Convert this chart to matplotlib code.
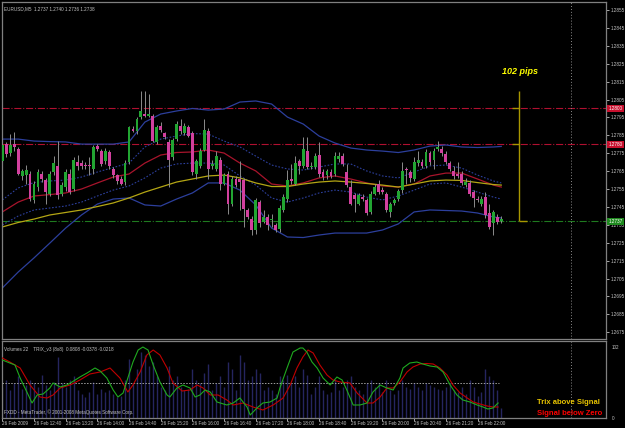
import matplotlib.pyplot as plt
import numpy as np

W, H = 625, 428

# ---- price data (EURUSD M5, 26 Feb 2009, bars from 12:00) ----
opens = [1.27709, 1.27802, 1.27752, 1.27802, 1.27774, 1.27622, 1.27626, 1.27635, 1.27487, 1.27561,
         1.27635, 1.27598, 1.27524, 1.27644, 1.27681, 1.27524, 1.27561, 1.27635, 1.27552, 1.27700,
         1.27694, 1.27685, 1.27685, 1.27663, 1.27792, 1.27761, 1.27704, 1.27755, 1.27663, 1.27626,
         1.27607, 1.27589, 1.27700, 1.27885, 1.27876, 1.27950, 1.27968, 1.27960, 1.27959, 1.27811,
         1.27904, 1.27861, 1.27811, 1.27728, 1.27829, 1.27904, 1.27861, 1.27894, 1.27861, 1.27635,
         1.27681, 1.27770, 1.27876, 1.27676, 1.27663, 1.27713, 1.27580, 1.27635, 1.27469, 1.27607,
         1.27607, 1.27598, 1.27432, 1.27385, 1.27321, 1.27478, 1.27367, 1.27395, 1.27375, 1.27348,
         1.27324, 1.27435, 1.27496, 1.27607, 1.27580, 1.27704, 1.27681, 1.27765, 1.27672, 1.27672,
         1.27742, 1.27644, 1.27626, 1.27644, 1.27635, 1.27719, 1.27737, 1.27644, 1.27561, 1.27515,
         1.27469, 1.27506, 1.27487, 1.27422, 1.27524, 1.27580, 1.27546, 1.27524, 1.27422, 1.27472,
         1.27496, 1.27543, 1.27663, 1.27644, 1.27607, 1.27694, 1.27700, 1.27681, 1.27752, 1.27713,
         1.27774, 1.27774, 1.27746, 1.27694, 1.27650, 1.27635, 1.27635, 1.27570, 1.27583, 1.27533,
         1.27496, 1.27469, 1.27506, 1.27417, 1.27358, 1.27395, 1.27370]
highs = [1.27830, 1.27810, 1.27857, 1.27870, 1.27785, 1.27660, 1.27682, 1.27650, 1.27595, 1.27660,
         1.27650, 1.27610, 1.27650, 1.27732, 1.27820, 1.27590, 1.27660, 1.27660, 1.27730, 1.27742,
         1.27710, 1.27700, 1.27728, 1.27795, 1.27802, 1.27775, 1.27780, 1.27770, 1.27675, 1.27635,
         1.27620, 1.27710, 1.27904, 1.27904, 1.27955, 1.28098, 1.28098, 1.28080, 1.27970, 1.27910,
         1.27925, 1.27870, 1.27830, 1.27835, 1.27931, 1.27941, 1.27920, 1.27910, 1.27875, 1.27720,
         1.27780, 1.27941, 1.27890, 1.27710, 1.27765, 1.27730, 1.27640, 1.27650, 1.27620, 1.27620,
         1.27709, 1.27610, 1.27445, 1.27400, 1.27500, 1.27490, 1.27432, 1.27410, 1.27413, 1.27360,
         1.27460, 1.27520, 1.27654, 1.27691, 1.27737, 1.27719, 1.27843, 1.27839, 1.27700, 1.27750,
         1.27811, 1.27660, 1.27663, 1.27660, 1.27755, 1.27755, 1.27750, 1.27690, 1.27598, 1.27530,
         1.27530, 1.27520, 1.27500, 1.27540, 1.27580, 1.27600, 1.27560, 1.27535, 1.27480, 1.27500,
         1.27550, 1.27700, 1.27672, 1.27655, 1.27728, 1.27765, 1.27720, 1.27775, 1.27765, 1.27780,
         1.27820, 1.27792, 1.27760, 1.27705, 1.27681, 1.27700, 1.27650, 1.27610, 1.27600, 1.27545,
         1.27510, 1.27510, 1.27533, 1.27469, 1.27430, 1.27410, 1.27400]
lows = [1.27700, 1.27730, 1.27737, 1.27765, 1.27626, 1.27600, 1.27580, 1.27485, 1.27470, 1.27540,
        1.27590, 1.27469, 1.27510, 1.27630, 1.27496, 1.27510, 1.27540, 1.27520, 1.27540, 1.27654,
        1.27660, 1.27660, 1.27626, 1.27632, 1.27760, 1.27680, 1.27690, 1.27660, 1.27610, 1.27580,
        1.27570, 1.27575, 1.27690, 1.27866, 1.27860, 1.27940, 1.27950, 1.27950, 1.27810, 1.27800,
        1.27870, 1.27830, 1.27561, 1.27710, 1.27820, 1.27860, 1.27850, 1.27840, 1.27630, 1.27607,
        1.27670, 1.27760, 1.27607, 1.27660, 1.27650, 1.27543, 1.27570, 1.27413, 1.27455, 1.27560,
        1.27432, 1.27339, 1.27380, 1.27293, 1.27300, 1.27340, 1.27358, 1.27321, 1.27339, 1.27310,
        1.27310, 1.27420, 1.27480, 1.27580, 1.27570, 1.27635, 1.27670, 1.27663, 1.27660, 1.27660,
        1.27617, 1.27600, 1.27607, 1.27610, 1.27625, 1.27700, 1.27680, 1.27560, 1.27460, 1.27422,
        1.27460, 1.27485, 1.27405, 1.27410, 1.27515, 1.27520, 1.27520, 1.27420, 1.27395, 1.27460,
        1.27485, 1.27530, 1.27580, 1.27590, 1.27595, 1.27680, 1.27670, 1.27670, 1.27685, 1.27663,
        1.27760, 1.27737, 1.27690, 1.27650, 1.27607, 1.27610, 1.27570, 1.27560, 1.27510, 1.27450,
        1.27475, 1.27455, 1.27390, 1.27325, 1.27293, 1.27355, 1.27360]
closes = [1.27796, 1.27743, 1.27796, 1.27783, 1.27635, 1.27648, 1.27657, 1.27496, 1.27580, 1.27644,
          1.27604, 1.27533, 1.27635, 1.27696, 1.27515, 1.27574, 1.27644, 1.27533, 1.27713, 1.27681,
          1.27676, 1.27676, 1.27676, 1.27783, 1.27774, 1.27691, 1.27765, 1.27676, 1.27626, 1.27594,
          1.27580, 1.27696, 1.27894, 1.27872, 1.27941, 1.27987, 1.27959, 1.27968, 1.27820, 1.27894,
          1.27881, 1.27843, 1.27713, 1.27824, 1.27913, 1.27872, 1.27904, 1.27848, 1.27644, 1.27705,
          1.27765, 1.27881, 1.27663, 1.27691, 1.27737, 1.27580, 1.27626, 1.27469, 1.27607, 1.27570,
          1.27589, 1.27441, 1.27395, 1.27321, 1.27487, 1.27358, 1.27395, 1.27348, 1.27380, 1.27321,
          1.27446, 1.27506, 1.27598, 1.27594, 1.27696, 1.27676, 1.27774, 1.27672, 1.27681, 1.27737,
          1.27635, 1.27617, 1.27648, 1.27620, 1.27737, 1.27737, 1.27691, 1.27570, 1.27469, 1.27496,
          1.27515, 1.27496, 1.27417, 1.27524, 1.27561, 1.27533, 1.27533, 1.27435, 1.27469, 1.27487,
          1.27537, 1.27650, 1.27654, 1.27613, 1.27700, 1.27713, 1.27681, 1.27759, 1.27700, 1.27765,
          1.27783, 1.27750, 1.27700, 1.27663, 1.27620, 1.27620, 1.27583, 1.27592, 1.27520, 1.27502,
          1.27487, 1.27496, 1.27404, 1.27339, 1.27419, 1.27367, 1.27380]
volumes = [45, 55, 40, 50, 60, 42, 48, 55, 50, 45, 62, 48, 40, 52, 88, 50,
           45, 55, 60, 40, 35, 30, 38, 52, 35, 42, 38, 40, 35, 30, 32, 55,
           85, 50, 70, 95, 90, 75, 80, 60, 45, 40, 75, 55, 60, 45, 40, 42,
           70, 55, 50, 65, 78, 40, 50, 60, 45, 80, 70, 40, 90, 80, 55, 60,
           70, 65, 40, 45, 40, 35, 60, 55, 62, 50, 60, 45, 70, 62, 35, 45,
           60, 40, 35, 38, 55, 40, 45, 55, 60, 45, 40, 35, 50, 55, 45, 50,
           38, 55, 40, 35, 40, 55, 45, 42, 50, 45, 40, 50, 48, 45, 42, 40,
           45, 50, 40, 38, 45, 35, 55, 45, 32, 38, 70, 60, 55, 40, 15]

# ---- indicator lines, read every 4 bars ----
band_bars = list(range(0, 125, 4)) + [126]
bb_upper = [1.27829, 1.27829, 1.27818, 1.27815, 1.27813, 1.27801, 1.27801, 1.27801, 1.27813, 1.27924,
            1.27969, 1.27986, 1.28000, 1.27991, 1.27997, 1.28036, 1.28042, 1.28025, 1.27952, 1.27913,
            1.27846, 1.27807, 1.27779, 1.27768, 1.27762, 1.27754, 1.27768, 1.27790, 1.27796, 1.27785,
            1.27782, 1.27785, 1.27788]
bb_lower = [1.26997, 1.27086, 1.27165, 1.27248, 1.27332, 1.27405, 1.27466, 1.27494, 1.27500, 1.27461,
            1.27455, 1.27494, 1.27528, 1.27584, 1.27584, 1.27544, 1.27461, 1.27332, 1.27282, 1.27279,
            1.27293, 1.27304, 1.27304, 1.27304, 1.27321, 1.27355, 1.27422, 1.27433, 1.27430, 1.27427,
            1.27416, 1.27394, 1.27388]
ma_fast = [1.27422, 1.27477, 1.27511, 1.27519, 1.27528, 1.27550, 1.27584, 1.27617, 1.27634, 1.27695,
           1.27740, 1.27754, 1.27757, 1.27768, 1.27751, 1.27695, 1.27651, 1.27578, 1.27567, 1.27584,
           1.27612, 1.27623, 1.27606, 1.27584, 1.27567, 1.27561, 1.27578, 1.27623, 1.27639, 1.27639,
           1.27606, 1.27572, 1.27561]
ma_slow = [1.27338, 1.27363, 1.27382, 1.27405, 1.27419, 1.27433, 1.27452, 1.27472, 1.27500, 1.27533,
           1.27561, 1.27589, 1.27606, 1.27623, 1.27628, 1.27612, 1.27584, 1.27564, 1.27564, 1.27578,
           1.27589, 1.27595, 1.27589, 1.27581, 1.27572, 1.27561, 1.27578, 1.27595, 1.27600, 1.27598,
           1.27586, 1.27575, 1.27572]
env_upper = [1.27489, 1.27556, 1.27586, 1.27595, 1.27600, 1.27617, 1.27645, 1.27670, 1.27695, 1.27785,
             1.27829, 1.27846, 1.27860, 1.27857, 1.27818, 1.27785, 1.27734, 1.27684, 1.27662, 1.27656,
             1.27673, 1.27690, 1.27690, 1.27651, 1.27623, 1.27612, 1.27645, 1.27679, 1.27684, 1.27667,
             1.27628, 1.27595, 1.27584]
env_lower = [1.27349, 1.27399, 1.27433, 1.27444, 1.27455, 1.27477, 1.27511, 1.27544, 1.27567, 1.27612,
             1.27667, 1.27690, 1.27695, 1.27695, 1.27684, 1.27623, 1.27572, 1.27500, 1.27477, 1.27500,
             1.27528, 1.27544, 1.27533, 1.27505, 1.27489, 1.27511, 1.27544, 1.27578, 1.27584, 1.27561,
             1.27533, 1.27505, 1.27494]

# ---- TRIX (green) and signal (red) ----
trix_bars = [0, 1.9, 3.2, 4.5, 6.2, 7.5, 8.8, 10.3, 12.0, 12.8, 14.6, 16.3, 17.6, 19.6, 21.4, 23.4,
             24.7, 26.4, 28.0, 29.2, 30.5, 31.7, 33.0, 34.3, 35.5, 36.8, 38.1, 39.8, 41.6, 42.3, 44.1,
             45.6, 47.4, 48.7, 49.9, 51.2, 52.5, 54.2, 56.7, 58.3, 60.0, 61.8, 62.6, 64.3, 65.8, 67.6,
             69.4, 70.1, 71.9, 73.4, 75.2, 75.9, 76.9, 78.2, 79.5, 81.0, 82.8, 84.5, 85.8, 87.0, 88.6,
             90.3, 92.1, 93.6, 95.4, 97.1, 98.7, 100.4, 101.2, 102.9, 104.7, 106.2, 108.0, 109.8,
             111.3, 113.1, 114.8, 116.3, 118.1, 119.9, 121.4, 122.6, 123.9, 125.2]
trix = [0.023, 0.020, 0.018, 0.005, -0.009, -0.020, -0.012, -0.011, -0.005, 0.000, -0.004, -0.002,
        0.001, 0.006, 0.010, 0.015, 0.012, 0.005, -0.007, -0.014, -0.010, 0.005, 0.021, 0.033, 0.036,
        0.033, 0.018, 0.001, -0.012, -0.014, -0.005, -0.002, -0.005, -0.014, -0.012, -0.007, -0.009,
        -0.019, -0.022, -0.020, -0.015, -0.024, -0.032, -0.025, -0.020, -0.019, -0.015, -0.005, 0.015,
        0.031, 0.035, 0.035, 0.031, 0.021, 0.015, 0.005, -0.002, 0.006, 0.003, -0.007, -0.022, -0.022,
        -0.020, -0.009, -0.002, -0.005, -0.007, 0.005, 0.015, 0.020, 0.021, 0.019, 0.017, 0.016, 0.011,
        -0.002, -0.012, -0.017, -0.019, -0.022, -0.024, -0.026, -0.025, -0.020]
signal_bars = [0, 1.9, 4.5, 7.0, 9.5, 11.3, 12.8, 14.6, 17.1, 19.6, 22.1, 24.7, 27.2, 29.7, 31.7,
               33.0, 34.8, 36.5, 38.1, 39.8, 41.6, 43.1, 45.4, 47.4, 49.2, 50.7, 52.5, 54.5, 56.7,
               58.3, 60.8, 63.3, 65.8, 68.4, 70.9, 72.7, 74.4, 75.9, 77.2, 78.5, 80.2, 82.0, 83.5,
               85.3, 87.8, 89.6, 92.1, 93.6, 95.4, 97.1, 98.7, 100.4, 102.2, 103.7, 105.5, 107.2,
               108.8, 110.5, 112.3, 113.8, 115.6, 117.4, 118.9, 120.6, 122.4, 123.9, 125.2]
signal = [0.025, 0.021, 0.015, -0.002, -0.014, -0.015, -0.012, -0.005, -0.002, 0.003, 0.009, 0.011,
          0.015, 0.005, -0.009, -0.002, 0.011, 0.028, 0.033, 0.028, 0.015, 0.000, -0.008, -0.007,
          -0.002, -0.005, -0.012, -0.012, -0.017, -0.022, -0.020, -0.024, -0.027, -0.022, -0.015,
          -0.002, 0.015, 0.026, 0.033, 0.030, 0.018, 0.008, 0.003, 0.001, 0.000, -0.010, -0.020,
          -0.020, -0.014, -0.005, -0.005, 0.001, 0.011, 0.016, 0.019, 0.0195, 0.019, 0.015, 0.008,
          -0.002, -0.010, -0.015, -0.019, -0.021, -0.023, -0.024, -0.024]

price_ticks = [1.2855, 1.2845, 1.2835, 1.2825, 1.2815, 1.2805, 1.2795, 1.2785, 1.2775, 1.2765,
               1.2755, 1.2745, 1.2735, 1.2725, 1.2715, 1.2705, 1.2695, 1.2685, 1.2675]
red_levels = [1.2800, 1.2780]
last_price = 1.2737
time_bars = list(range(0, 121, 8))
time_labels = ["26 Feb 2009", "26 Feb 12:40", "26 Feb 13:20", "26 Feb 14:00", "26 Feb 14:40",
               "26 Feb 15:20", "26 Feb 16:00", "26 Feb 16:40", "26 Feb 17:20", "26 Feb 18:00",
               "26 Feb 18:40", "26 Feb 19:20", "26 Feb 20:00", "26 Feb 20:40", "26 Feb 21:20",
               "26 Feb 22:00"]
measure_bar = 130.5
measure_top, measure_bottom = 1.2810, 1.2737
cursor_bar = 143.6

GRID = '#808080'
TXT = '#c4c4c4'
BLUE = '#2c3f9c'
FONT = 'Liberation Sans'
FS = 3.3

fig = plt.figure(figsize=(W / 100, H / 100), dpi=100, facecolor='black')
ax = fig.add_axes([2 / W, 1 - 339 / H, 604 / W, 337 / H], facecolor='black')
axv = fig.add_axes([2 / W, 1 - 418 / H, 604 / W, 77 / H], facecolor='black')
axt = axv.twinx()

xlim = (-0.08, 152.45)
bars = np.arange(len(opens))

# candles
o = np.array(opens); c = np.array(closes)
up = c >= o
body_col = np.where(up, '#22a532', '#d2409e')
ax.vlines(bars, lows, highs, color='#8c8c8c', lw=0.7, zorder=3)
ax.bar(bars, np.maximum(np.abs(c - o), 0.00004), bottom=np.minimum(o, c), width=0.72,
       color=body_col, linewidth=0, zorder=4)

# indicators
ax.plot(band_bars, bb_upper, color=BLUE, lw=0.9, zorder=2)
ax.plot(band_bars, bb_lower, color=BLUE, lw=0.9, zorder=2)
ax.plot(band_bars, env_upper, color=BLUE, lw=0.8, ls=(0, (1.5, 1.5)), zorder=2)
ax.plot(band_bars, env_lower, color=BLUE, lw=0.8, ls=(0, (1.5, 1.5)), zorder=2)
ax.plot(band_bars, ma_fast, color='#a8142c', lw=0.9, zorder=2)
ax.plot(band_bars, ma_slow, color='#b4a614', lw=0.9, zorder=2)

# levels
for lv in red_levels:
    ax.axhline(lv, color='#b01030', lw=0.8, ls='-.', zorder=1)
    ax.text(1.004, lv, f"{lv:.4f}", transform=ax.get_yaxis_transform(), fontsize=FS,
            family=FONT, color='white', va='center', ha='left', zorder=6,
            bbox=dict(boxstyle='square,pad=0.25', fc='#c8102e', ec='none'))
ax.axhline(last_price, color='#1f7a1f', lw=0.8, ls='-.', zorder=1)
ax.text(1.004, last_price, f"{last_price:.4f}", transform=ax.get_yaxis_transform(), fontsize=FS,
        family=FONT, color='white', va='center', ha='left', zorder=6,
        bbox=dict(boxstyle='square,pad=0.25', fc='#1f8a1f', ec='none'))

# pip measure
MEAS = '#a89600'
ax.vlines(measure_bar, measure_bottom, measure_top, color=MEAS, lw=1.0, zorder=5)
ax.hlines(red_levels, measure_bar - 1.8, measure_bar, color=MEAS, lw=1.0, zorder=5)
ax.hlines(measure_bottom, measure_bar, measure_bar + 2.0, color=MEAS, lw=1.0, zorder=5)
ax.text(measure_bar + 0.2, 1.28209, "102 pips", color='#ffff00', fontsize=6.5, family=FONT,
        weight='bold', style='italic', ha='center', va='center')

ax.axvline(cursor_bar, color='#8a8a8a', lw=0.7, ls=(0, (1, 2)))
axv.axvline(cursor_bar, color='#8a8a8a', lw=0.7, ls=(0, (1, 2)))

ax.set_xlim(*xlim)
ax.set_ylim(1.26712, 1.28595)
ax.yaxis.tick_right()
ax.set_yticks(price_ticks)
ax.set_yticklabels([f"{t:.4f}" for t in price_ticks], family=FONT)
ax.tick_params(axis='y', colors=TXT, labelsize=FS, length=2, width=0.6, pad=1.2)
ax.set_xticks([])
for s in ax.spines.values():
    s.set_color(GRID); s.set_linewidth(0.9)

ax.text(0.004, 0.988, "EURUSD,M5  1.2737 1.2740 1.2736 1.2738", transform=ax.transAxes,
        fontsize=FS, family=FONT, color=TXT, va='top', ha='left')

# ---- lower panel: volumes + TRIX ----
axv.vlines(bars, 0, volumes, color='#25255f', lw=1.0)
axv.set_xlim(*xlim)
axv.set_ylim(0, 110.6)
axv.set_yticks([102, 0])
axv.set_yticklabels(["102", "0"], family=FONT)
axv.yaxis.tick_right()
axv.yaxis.set_label_position('right')
axv.tick_params(axis='y', which='both', left=False, labelleft=False, right=True, labelright=True,
                colors=TXT, labelsize=FS, length=0, pad=4)
axv.set_xticks(time_bars)
axv.set_xticklabels(time_labels, family=FONT)
for lbl in axv.get_xticklabels():
    lbl.set_ha('left')
axv.tick_params(axis='x', colors=TXT, labelsize=FS, length=2, width=0.6, pad=0.5)
for s in axv.spines.values():
    s.set_color(GRID); s.set_linewidth(0.9)

axt.set_ylim(-0.035, 0.042)
axt.set_xlim(*xlim)
axt.hlines(0, 0, 125.5, color='#a0a0a0', lw=0.7, ls=(0, (1.5, 1.5)))
axt.plot(signal_bars, signal, color='#c00000', lw=0.8)
axt.plot(trix_bars, trix, color='#1faa1f', lw=0.8)
axt.set_yticks([])
axt.tick_params(axis='y', left=False, right=False, labelleft=False, labelright=False)
for s in axt.spines.values():
    s.set_visible(False)

axt.text(0.004, 0.92, "Volumes 22    TRIX_v3 (8x8)  0.0808 -0.0378 -0.0218", transform=axt.transAxes,
         fontsize=FS, family=FONT, color=TXT, va='top', ha='left', zorder=6)
axt.text(0.004, 0.04, "FXDD - MetaTrader, \u00a9 2001-2008 MetaQuotes Software Corp.",
         transform=axt.transAxes, fontsize=FS, family=FONT, color=TXT, va='bottom', ha='left', zorder=6)
axt.text(0.885, 0.20, "Trix above Signal", transform=axt.transAxes, fontsize=5.5, family=FONT,
         weight='bold', color='#e8c400', va='center', ha='left', zorder=6)
axt.text(0.885, 0.06, "Signal below Zero", transform=axt.transAxes, fontsize=5.5, family=FONT,
         weight='bold', color='#ff0000', va='center', ha='left', zorder=6)

fig.savefig("out.png", dpi=100, facecolor='black')
